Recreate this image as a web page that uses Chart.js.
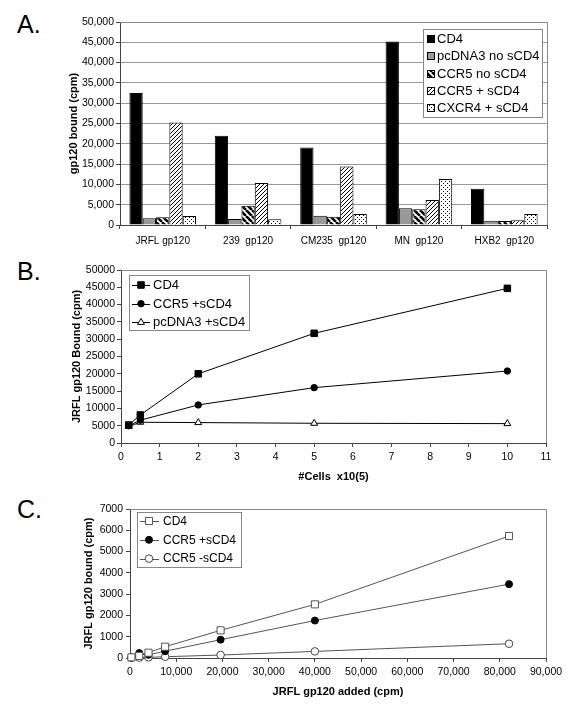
<!DOCTYPE html>
<html><head><meta charset="utf-8">
<script src="https://cdn.jsdelivr.net/npm/chart.js@4.4.0/dist/chart.umd.min.js"></script>
<style>
html,body{margin:0;padding:0;background:#fff;}
body{width:575px;height:710px;position:relative;overflow:hidden;font-family:"Liberation Sans",Arial,sans-serif;}
.panel{position:absolute;left:0;}
.lbl{position:absolute;left:17px;font-size:25px;line-height:1;color:#000;}
</style></head><body>
<div class="lbl" style="top:12px">A.</div>
<div class="lbl" style="top:259px">B.</div>
<div class="lbl" style="top:497px">C.</div>
<canvas id="cA" class="panel" width="575" height="250" style="top:0"></canvas>
<canvas id="cB" class="panel" width="575" height="235" style="top:250px"></canvas>
<canvas id="cC" class="panel" width="575" height="220" style="top:490px"></canvas>
<script>
// ---------- Panel A data ----------
const categoriesA = ['JRFL gp120','239  gp120','CM235  gp120','MN  gp120','HXB2  gp120'];
const seriesNamesA = ['CD4','pcDNA3 no sCD4','CCR5 no sCD4','CCR5 + sCD4','CXCR4 + sCD4'];
const cd4A       = [32500, 22000, 19100, 45200, 8950];
const pcdna3NoA  = [1650, 1450, 2300, 4100, 1050];
const ccr5NoA    = [1900, 4750, 2050, 3850, 1000];
const ccr5PlusA  = [25250, 10350, 14400, 6150, 1200];
const cxcr4PlusA = [2200, 1400, 2700, 11350, 2700];
const yTicksA = [0,5000,10000,15000,20000,25000,30000,35000,40000,45000,50000];

// ---------- Panel B data ----------
const seriesNamesB = ['CD4','CCR5 +sCD4','pcDNA3 +sCD4'];
const cellsB   = [0.2, 0.5, 2, 5, 10];
const cd4B     = [5200, 8100, 20000, 31700, 44700];
const ccr5B    = [5000, 6600, 11000, 16000, 20800];
const pcdna3B  = [4800, 6000, 5900, 5700, 5600];

// ---------- Panel C data ----------
const seriesNamesC = ['CD4','CCR5 +sCD4','CCR5 -sCD4'];
const addedC      = [300, 2000, 4000, 7600, 19600, 40000, 82000];
const cd4C        = [30, 100, 250, 530, 1300, 2520, 5730];
const ccr5PlusC   = [20, 230, 150, 320, 860, 1760, 3470];
const ccr5MinusC  = [10, 20, 30, 60, 140, 310, 670];

const F = '"Liberation Sans", Arial, sans-serif';

function pattern(kind){
  const c = document.createElement('canvas');
  let s = 6;
  if (kind==='thin') s = 4;
  if (kind==='dots') s = 4;
  c.width = s; c.height = s;
  const x = c.getContext('2d');
  x.fillStyle = '#fff'; x.fillRect(0,0,s,s);
  x.strokeStyle = '#000'; x.fillStyle = '#000';
  if (kind==='thick'){
    x.lineWidth = 2.6; x.beginPath();
    for (let i=-1;i<=1;i++){ x.moveTo(i*s,0); x.lineTo(i*s+s,s); }
    x.stroke();
  } else if (kind==='thin'){
    x.lineWidth = 1; x.beginPath();
    for (let i=-1;i<=1;i++){ x.moveTo(i*s,s); x.lineTo(i*s+s,0); }
    x.stroke();
  } else if (kind==='dots'){
    x.fillRect(1,1,1,1); x.fillRect(3,3,1,1);
  }
  return x.createPattern(c,'repeat');
}

const frame = {
  id:'frame',
  beforeDatasetsDraw(chart){
    const a = chart.chartArea, ctx = chart.ctx;
    ctx.save(); ctx.strokeStyle='#888'; ctx.lineWidth=1;
    ctx.beginPath();
    ctx.moveTo(Math.round(a.left), Math.round(a.top)+0.5);
    ctx.lineTo(Math.round(a.right)+0.5, Math.round(a.top)+0.5);
    ctx.lineTo(Math.round(a.right)+0.5, Math.round(a.bottom));
    ctx.stroke(); ctx.restore();
  }
};

const legendBox = {
  id:'legendBox',
  afterDraw(chart, args, o){
    const ctx = chart.ctx; ctx.save();
    ctx.fillStyle='#fff'; ctx.fillRect(o.x,o.y,o.w,o.h);
    ctx.strokeStyle='#888'; ctx.lineWidth=1; ctx.strokeRect(o.x+0.5,o.y+0.5,o.w,o.h);
    ctx.font = o.font; ctx.textBaseline='middle'; ctx.textAlign='left';
    chart.data.datasets.forEach((ds,i)=>{
      const y = o.y0 + i*o.dy;
      if (o.kind==='bar'){
        ctx.fillStyle = ds.backgroundColor;
        ctx.fillRect(o.sx, Math.round(y-o.ss/2), o.ss, o.ss);
        ctx.strokeStyle='#000'; ctx.lineWidth=1;
        ctx.strokeRect(o.sx+0.5, Math.round(y-o.ss/2)+0.5, o.ss-1, o.ss-1);
      } else {
        ctx.strokeStyle = ds.borderColor; ctx.lineWidth=1;
        ctx.beginPath(); ctx.moveTo(o.lx0, Math.round(y)+0.5); ctx.lineTo(o.lx1, Math.round(y)+0.5); ctx.stroke();
        ctx.fillStyle = ds.pointBackgroundColor; ctx.strokeStyle = ds.pointBorderColor;
        Chart.helpers.drawPoint(ctx, {pointStyle: ds.pointStyle, radius: ds.pointRadius, borderWidth: ds.pointBorderWidth, rotation:0}, o.mx, y);
      }
      ctx.fillStyle='#000';
      ctx.fillText(ds.label, o.tx, y+0.5);
    });
    ctx.restore();
  }
};

// ---------- Chart A ----------
const fillsA = ['#000', '#999', pattern('thick'), pattern('thin'), pattern('dots')];
const valuesA = [cd4A, pcdna3NoA, ccr5NoA, ccr5PlusA, cxcr4PlusA];
new Chart(document.getElementById('cA'), {
  type:'bar',
  data:{ labels: categoriesA,
    datasets: seriesNamesA.map((n,i)=>({label:n, data:valuesA[i], backgroundColor:fillsA[i], borderColor:'#000', borderWidth:1,
      categoryPercentage:0.78, barPercentage:1.0})) },
  plugins:[frame, legendBox],
  options:{
    responsive:false, animation:false, devicePixelRatio:1,
    layout:{padding:{top:22,right:28,left:0,bottom:0}},
    plugins:{ legend:{display:false}, tooltip:{enabled:false},
      legendBox:{kind:'bar', x:423, y:29, w:119, h:88, y0:39, dy:17.3, sx:427, ss:8, tx:437, font:'13px '+F} },
    scales:{
      x:{ grid:{display:true, drawOnChartArea:false, drawTicks:true, tickLength:4, color:'#444', offset:true},
          border:{color:'#444'},
          ticks:{font:{size:10,family:F}, color:'#000', padding:6, maxRotation:0, autoSkip:false},
          afterFit(s){ s.height = 25; } },
      y:{ min:0, max:50000,
          afterBuildTicks(s){ s.ticks = yTicksA.map(v=>({value:v})); },
          ticks:{font:{size:10.5,family:F}, color:'#000', padding:2, callback:v=>v.toLocaleString('en-US')},
          grid:{color:'#999', tickColor:'#444', tickLength:4},
          border:{color:'#444'},
          title:{display:true, text:'gp120 bound (cpm)', color:'#000', font:{size:11,weight:'bold',family:F}, padding:{top:67,bottom:0}},
          afterFit(s){ s.width = 120; } }
    }
  }
});

// ---------- Chart B ----------
function pts(xs, ys){ return xs.map((x,i)=>({x:x, y:ys[i]})); }
const stylesB = [
  {pointStyle:'rect', pointRadius:4.6, pointBackgroundColor:'#000', pointBorderColor:'#000'},
  {pointStyle:'circle', pointRadius:3.2, pointBackgroundColor:'#000', pointBorderColor:'#000'},
  {pointStyle:'triangle', pointRadius:4, pointBackgroundColor:'#fff', pointBorderColor:'#000'}
];
const valuesB = [cd4B, ccr5B, pcdna3B];
new Chart(document.getElementById('cB'), {
  type:'scatter',
  data:{ datasets: seriesNamesB.map((n,i)=>Object.assign({label:n, data:pts(cellsB, valuesB[i]), showLine:true, clip:false,
      borderColor:'#000', borderWidth:1, pointBorderWidth:1, tension:0}, stylesB[i])) },
  plugins:[frame, legendBox],
  options:{
    responsive:false, animation:false, devicePixelRatio:1,
    layout:{padding:{top:20,right:29,left:0,bottom:0}},
    plugins:{ legend:{display:false}, tooltip:{enabled:false},
      legendBox:{kind:'line', x:129, y:25, w:120, h:55, y0:35, dy:18.7, lx0:132, lx1:150, mx:141, tx:153, font:'13px '+F} },
    scales:{
      x:{ type:'linear', min:0, max:11,
          ticks:{stepSize:1, font:{size:10.5,family:F}, color:'#000', padding:4, maxRotation:0},
          grid:{display:true, drawOnChartArea:false, tickLength:4, color:'#444'},
          border:{color:'#444'},
          title:{display:true, text:'#Cells  x10(5)', color:'#000', font:{size:11,weight:'bold',family:F}, padding:{top:0,bottom:1.4}},
          afterFit(s){ s.height = 42; } },
      y:{ min:0, max:50000,
          ticks:{stepSize:5000, font:{size:10.5,family:F}, color:'#000', padding:2, callback:v=>String(v)},
          grid:{display:true, drawOnChartArea:false, tickLength:4, color:'#444'},
          border:{color:'#444'},
          title:{display:true, text:'JRFL gp120 Bound (cpm)', color:'#000', font:{size:11,weight:'bold',family:F}, padding:{top:70,bottom:0}},
          afterFit(s){ s.width = 121; } }
    }
  }
});

// ---------- Chart C ----------
const stylesC = [
  {pointStyle:'rect', pointRadius:5, pointBackgroundColor:'#fff', pointBorderColor:'#555'},
  {pointStyle:'circle', pointRadius:3.5, pointBackgroundColor:'#000', pointBorderColor:'#000'},
  {pointStyle:'circle', pointRadius:3.8, pointBackgroundColor:'#fff', pointBorderColor:'#444'}
];
const valuesC = [cd4C, ccr5PlusC, ccr5MinusC];
new Chart(document.getElementById('cC'), {
  type:'scatter',
  data:{ datasets: seriesNamesC.map((n,i)=>Object.assign({label:n, data:pts(addedC, valuesC[i]), showLine:true, clip:false,
      borderColor:'#555', borderWidth:1, pointBorderWidth:1, tension:0}, stylesC[i])) },
  plugins:[frame, legendBox],
  options:{
    responsive:false, animation:false, devicePixelRatio:1,
    layout:{padding:{top:19,right:29,left:0,bottom:0}},
    plugins:{ legend:{display:false}, tooltip:{enabled:false},
      legendBox:{kind:'line', x:137, y:22, w:104, h:55, y0:31, dy:18.8, lx0:140, lx1:159, mx:149, tx:163, font:'12px '+F} },
    scales:{
      x:{ type:'linear', min:0, max:90000,
          ticks:{stepSize:10000, font:{size:10.5,family:F}, color:'#000', padding:4, maxRotation:0, callback:v=>v.toLocaleString('en-US')},
          grid:{display:true, drawOnChartArea:false, tickLength:4, color:'#444'},
          border:{color:'#444'},
          title:{display:true, text:'JRFL gp120 added (cpm)', color:'#000', font:{size:11,weight:'bold',family:F}, padding:{top:0,bottom:11.4}},
          afterFit(s){ s.height = 52; } },
      y:{ min:0, max:7000,
          ticks:{stepSize:1000, font:{size:10.5,family:F}, color:'#000', padding:3, callback:v=>String(v)},
          grid:{display:true, drawOnChartArea:false, tickLength:4, color:'#444'},
          border:{color:'#444'},
          title:{display:true, text:'JRFL gp120 bound (cpm)', color:'#000', font:{size:11,weight:'bold',family:F}, padding:{top:82,bottom:0}},
          afterFit(s){ s.width = 130; } }
    }
  }
});
</script>
</body></html>
